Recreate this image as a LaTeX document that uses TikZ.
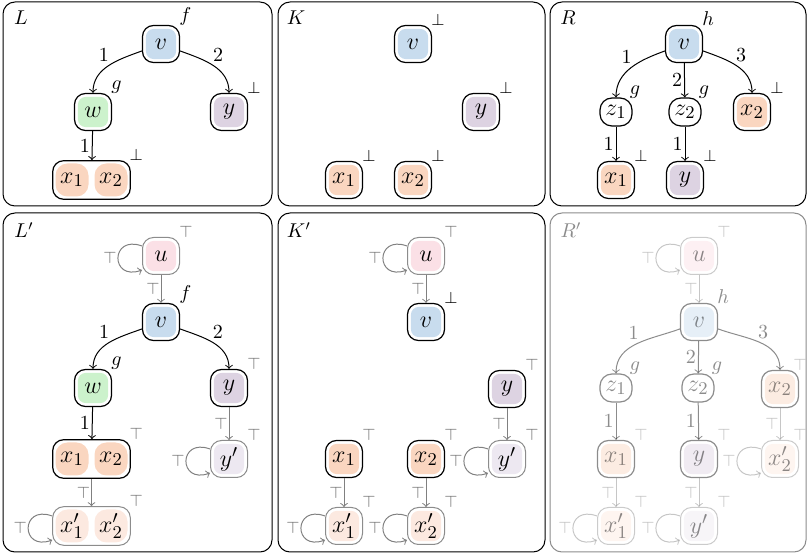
\documentclass[tikz,border=0pt]{standalone}
\usetikzlibrary{fit}
\definecolor{cv}{RGB}{200,220,238}
\definecolor{cw}{RGB}{204,242,204}
\definecolor{cy}{RGB}{221,211,226}
\definecolor{cx}{RGB}{250,214,192}
\definecolor{cu}{RGB}{251,224,230}
\definecolor{cxp}{RGB}{252,233,224}
\definecolor{cyp}{RGB}{237,232,241}
\begin{document}
\begin{tikzpicture}[x=0.5pt,y=-0.5pt,
    vtx/.style={draw, line width=0.6pt, rounded corners=5.5pt, minimum size=18.5pt, inner sep=0pt, fill=white,
        font=\fontsize{13}{15}\selectfont,
        path picture={\fill[#1, rounded corners=4pt] ([shift={(1.7pt,1.7pt)}]path picture bounding box.south west) rectangle ([shift={(-1.7pt,-1.7pt)}]path picture bounding box.north east);}},
    fvtx/.style={vtx=#1, draw=black!45, line width=0.5pt},
    aux/.style={draw, line width=0.6pt, rounded corners=6pt, minimum width=16pt, minimum height=14pt, inner sep=0.5pt,
        font=\fontsize{13}{15}\selectfont},
    blob/.style={fill=#1, rounded corners=6pt, minimum size=16.5pt, inner sep=0pt, font=\fontsize{13}{15}\selectfont},
    grp/.style={draw, line width=0.6pt, rounded corners=5.5pt, inner sep=1.2pt},
    fgrp/.style={grp, draw=black!45, line width=0.5pt},
    panel/.style={draw, line width=0.5pt, rounded corners=6pt},
    title/.style={inner sep=0pt},
    nlab/.style={inner sep=0.5pt, label distance=-1.5pt},
    clab/.style={inner sep=0.5pt, label distance=-1.5pt, font=\footnotesize},
    flab/.style={clab, text=black!55},
    elab/.style={inner sep=1pt},
    link/.style={->, line width=0.5pt},
    flink/.style={->, line width=0.5pt, black!50},
    loopy/.style={flink, out=160, in=200, distance=17pt}]
    \useasboundingbox (0,0) rectangle (809,555);

    % Panel L
    \begin{scope}[shift={(0,0)}]
        \draw[panel] (3,2) rectangle (272,206);
        \node[title] (Lt) at (21,18) {$L$};
        \node[vtx=cv, label={[nlab]45:$f$}] (Lv) at (161,44) {$v$};
        \node[vtx=cw, label={[nlab]45:$g$}] (Lw) at (93,112) {$w$};
        \node[vtx=cy, label={[clab]45:$\bot$}] (Ly) at (229,112) {$y$};
        \node[blob=cx] (Lx1) at (72,180) {$x_1$};
        \node[blob=cx] (Lx2) at (111,180) {$x_2$};
        \node[grp, fit=(Lx1)(Lx2), label={[clab]north east:$\bot$}] (Lx) {};
        \draw[link] (Lv) to[out=200,in=90] node[elab,pos=0.45,above left]{$1$} (Lw);
        \draw[link] (Lv) to[out=-20,in=90] node[elab,pos=0.45,above right]{$2$} (Ly);
        \draw[link] (Lw) -- node[elab,left]{$1$} (Lx);
    \end{scope}

    % Panel K
    \begin{scope}[shift={(275,0)}]
        \draw[panel] (3,2) rectangle (270,206);
        \node[title] (Kt) at (21,18) {$K$};
        \node[vtx=cv, label={[clab]45:$\bot$}] (Kv) at (138,44) {$v$};
        \node[vtx=cy, label={[clab]45:$\bot$}] (Ky) at (206,112) {$y$};
        \node[vtx=cx, label={[clab]45:$\bot$}] (Kx1) at (69,180) {$x_1$};
        \node[vtx=cx, label={[clab]45:$\bot$}] (Kx2) at (138,180) {$x_2$};
    \end{scope}

    % Panel R
    \begin{scope}[shift={(545,0)}]
        \draw[panel] (5,2) rectangle (261,206);
        \node[title] (Rt) at (23,18) {$R$};
        \node[vtx=cv, label={[nlab]45:$h$}] (Rv) at (139,44) {$v$};
        \node[aux, label={[nlab]45:$g$}] (Rz1) at (71,112) {$z_1$};
        \node[aux, label={[nlab]45:$g$}] (Rz2) at (140,112) {$z_2$};
        \node[vtx=cx, label={[clab]45:$\bot$}] (Rx2) at (207,112) {$x_2$};
        \node[vtx=cx, label={[clab]45:$\bot$}] (Rx1) at (71,180) {$x_1$};
        \node[vtx=cy, label={[clab]45:$\bot$}] (Ry) at (140,180) {$y$};
        \draw[link] (Rv) to[out=200,in=90] node[elab,pos=0.45,above left]{$1$} (Rz1);
        \draw[link] (Rv) -- node[elab,left]{$2$} (Rz2);
        \draw[link] (Rv) to[out=-20,in=90] node[elab,pos=0.45,above right]{$3$} (Rx2);
        \draw[link] (Rz1) -- node[elab,left]{$1$} (Rx1);
        \draw[link] (Rz2) -- node[elab,left]{$1$} (Ry);
    \end{scope}

    % Panel L'
    \begin{scope}[shift={(0,210)}]
        \draw[panel] (3,3) rectangle (272,342);
        \node[title] (Lpt) at (24,20) {$L'$};
        \node[fvtx=cu, label={[flab]45:$\top$}] (Lpu) at (161,46) {$u$};
        \node[vtx=cv, label={[nlab]45:$f$}] (Lpv) at (161,112) {$v$};
        \node[vtx=cw, label={[nlab]45:$g$}] (Lpw) at (93,178) {$w$};
        \node[vtx=cy, label={[flab]45:$\top$}] (Lpy) at (229,178) {$y$};
        \node[fvtx=cyp, label={[flab]45:$\top$}] (Lpyy) at (229,249) {$y'$};
        \node[blob=cx] (Lpx1) at (72,249) {$x_1$};
        \node[blob=cx] (Lpx2) at (111,249) {$x_2$};
        \node[grp, fit=(Lpx1)(Lpx2), label={[flab]north east:$\top$}] (Lpx) {};
        \node[blob=cxp] (Lpxx1) at (72,316) {$x'_1$};
        \node[blob=cxp] (Lpxx2) at (111,316) {$x'_2$};
        \node[fgrp, fit=(Lpxx1)(Lpxx2), label={[flab]north east:$\top$}] (Lpxx) {};
        \draw[loopy] ([yshift=5pt]Lpu.west) to node[flab,left]{$\top$} ([yshift=-7pt]Lpu.west);
        \draw[flink] (Lpu) -- node[flab,left]{$\top$} (Lpv);
        \draw[link] (Lpv) to[out=200,in=90] node[elab,pos=0.45,above left]{$1$} (Lpw);
        \draw[link] (Lpv) to[out=-20,in=90] node[elab,pos=0.45,above right]{$2$} (Lpy);
        \draw[link] (Lpw) -- node[elab,left]{$1$} (Lpx);
        \draw[flink] (Lpy) -- node[flab,left]{$\top$} (Lpyy);
        \draw[loopy] ([yshift=5pt]Lpyy.west) to node[flab,left]{$\top$} ([yshift=-7pt]Lpyy.west);
        \draw[flink] (Lpx) -- node[flab,left]{$\top$} (Lpxx);
        \draw[loopy] ([yshift=5pt]Lpxx.west) to node[flab,left]{$\top$} ([yshift=-7pt]Lpxx.west);
    \end{scope}

    % Panel K'
    \begin{scope}[shift={(275,210)}]
        \draw[panel] (3,3) rectangle (270,342);
        \node[title] (Kpt) at (24,20) {$K'$};
        \node[fvtx=cu, label={[flab]45:$\top$}] (Kpu) at (151,46) {$u$};
        \node[vtx=cv, label={[clab]45:$\bot$}] (Kpv) at (151,112) {$v$};
        \node[vtx=cy, label={[flab]45:$\top$}] (Kpy) at (232,179) {$y$};
        \node[fvtx=cyp, label={[flab]45:$\top$}] (Kpyy) at (232,249) {$y'$};
        \node[vtx=cx, label={[flab]45:$\top$}] (Kpx1) at (69,249) {$x_1$};
        \node[vtx=cx, label={[flab]45:$\top$}] (Kpx2) at (151,249) {$x_2$};
        \node[fvtx=cxp, label={[flab]45:$\top$}] (Kpxx1) at (69,316) {$x'_1$};
        \node[fvtx=cxp, label={[flab]45:$\top$}] (Kpxx2) at (151,316) {$x'_2$};
        \draw[loopy] ([yshift=5pt]Kpu.west) to node[flab,left]{$\top$} ([yshift=-7pt]Kpu.west);
        \draw[flink] (Kpu) -- node[flab,left]{$\top$} (Kpv);
        \draw[flink] (Kpy) -- node[flab,left]{$\top$} (Kpyy);
        \draw[loopy] ([yshift=5pt]Kpyy.west) to node[flab,left]{$\top$} ([yshift=-7pt]Kpyy.west);
        \draw[flink] (Kpx1) -- node[flab,left]{$\top$} (Kpxx1);
        \draw[flink] (Kpx2) -- node[flab,left]{$\top$} (Kpxx2);
        \draw[loopy] ([yshift=5pt]Kpxx1.west) to node[flab,left]{$\top$} ([yshift=-7pt]Kpxx1.west);
        \draw[loopy] ([yshift=5pt]Kpxx2.west) to node[flab,left]{$\top$} ([yshift=-7pt]Kpxx2.west);
    \end{scope}

    % Panel R' (faded)
    \begin{scope}[shift={(545,210)}, opacity=0.45]
        \draw[panel] (5,3) rectangle (261,342);
        \node[title] (Rpt) at (26,20) {$R'$};
        \node[fvtx=cu, label={[flab]45:$\top$}] (Rpu) at (154,46) {$u$};
        \node[vtx=cv, label={[nlab]45:$h$}] (Rpv) at (154,112) {$v$};
        \node[aux, label={[nlab]45:$g$}] (Rpz1) at (71,178) {$z_1$};
        \node[aux, label={[nlab]45:$g$}] (Rpz2) at (153,178) {$z_2$};
        \node[vtx=cx, label={[flab,xshift=-2.5pt]45:$\top$}] (Rpx2) at (235,179) {$x_2$};
        \node[vtx=cx, label={[flab]45:$\top$}] (Rpx1) at (71,249) {$x_1$};
        \node[vtx=cy, label={[flab]45:$\top$}] (Rpy) at (154,249) {$y$};
        \node[fvtx=cxp, label={[flab,xshift=-2.5pt]45:$\top$}] (Rpxx2) at (235,249) {$x'_2$};
        \node[fvtx=cxp, label={[flab]45:$\top$}] (Rpxx1) at (71,316) {$x'_1$};
        \node[fvtx=cyp, label={[flab]45:$\top$}] (Rpyy) at (154,316) {$y'$};
        \draw[loopy] ([yshift=5pt]Rpu.west) to node[flab,left]{$\top$} ([yshift=-7pt]Rpu.west);
        \draw[flink] (Rpu) -- node[flab,left]{$\top$} (Rpv);
        \draw[link] (Rpv) to[out=200,in=90] node[elab,pos=0.45,above left]{$1$} (Rpz1);
        \draw[link] (Rpv) -- node[elab,left]{$2$} (Rpz2);
        \draw[link] (Rpv) to[out=-20,in=90] node[elab,pos=0.45,above right]{$3$} (Rpx2);
        \draw[link] (Rpz1) -- node[elab,left]{$1$} (Rpx1);
        \draw[link] (Rpz2) -- node[elab,left]{$1$} (Rpy);
        \draw[flink] (Rpx1) -- node[flab,left]{$\top$} (Rpxx1);
        \draw[flink] (Rpy) -- node[flab,left]{$\top$} (Rpyy);
        \draw[flink] (Rpx2) -- node[flab,left]{$\top$} (Rpxx2);
        \draw[loopy] ([yshift=5pt]Rpxx2.west) to node[flab,left]{$\top$} ([yshift=-7pt]Rpxx2.west);
        \draw[loopy] ([yshift=5pt]Rpxx1.west) to node[flab,left]{$\top$} ([yshift=-7pt]Rpxx1.west);
        \draw[loopy] ([yshift=5pt]Rpyy.west) to node[flab,left]{$\top$} ([yshift=-7pt]Rpyy.west);
    \end{scope}
\end{tikzpicture}
\end{document}
